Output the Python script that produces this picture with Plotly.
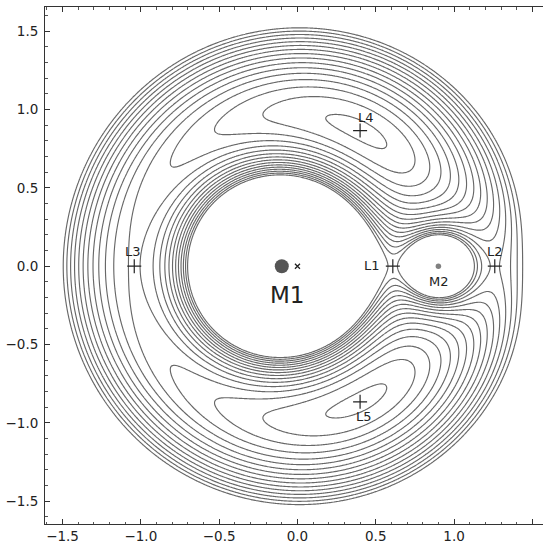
import numpy as np
import plotly.graph_objects as go

# --- data ---
MU = 0.1  # mass ratio (M1 at -MU, M2 at 1-MU)
LEVELS = [1.460, 1.483, 1.506, 1.529, 1.552, 1.575, 1.598, 1.621,
          1.644, 1.667, 1.690, 1.713, 1.736, 1.759, 1.782, 1.805]
LAGRANGE_NAMES = ["L1", "L2", "L3", "L4", "L5"]
LAGRANGE_X = [0.609, 1.260, -1.042, 0.400, 0.400]
LAGRANGE_Y = [0.0, 0.0, 0.0, 0.866, -0.866]
LABEL_X = [0.479, 1.260, -1.050, 0.438, 0.428]
LABEL_Y = [0.005, 0.093, 0.093, 0.952, -0.960]
BODY_NAMES = ["M1", "M2"]
BODY_X = [-0.1, 0.9]
BODY_Y = [0.0, 0.0]
BODY_LABEL_X = [-0.068, 0.905]
BODY_LABEL_Y = [-0.183, -0.100]
BARY_X = [0.0]
BARY_Y = [0.0]
X_RANGE = [-1.612, 1.568]
Y_RANGE = [-1.646, 1.655]

# effective potential grid
gx = np.linspace(-1.65, 1.65, 420)
gy = np.linspace(-1.68, 1.68, 420)
X, Y = np.meshgrid(gx, gy)
r1 = np.sqrt((X + MU) ** 2 + Y ** 2)
r2 = np.sqrt((X - 1 + MU) ** 2 + Y ** 2)
with np.errstate(divide="ignore"):
    Z = 0.5 * (X ** 2 + Y ** 2) + (1 - MU) / r1 + MU / r2
Z = np.round(np.minimum(Z, 2.2), 5)

step = (LEVELS[-1] - LEVELS[0]) / (len(LEVELS) - 1)

fig = go.Figure()
fig.add_trace(go.Contour(
    x=gx, y=gy, z=Z,
    contours=dict(start=LEVELS[0], end=LEVELS[-1] + step * 0.01, size=step,
                  coloring="lines", showlabels=False),
    colorscale=[[0, "#686868"], [1, "#686868"]],
    line=dict(width=1.15, smoothing=1),
    showscale=False, hoverinfo="skip",
))

# bodies
fig.add_trace(go.Scatter(x=[BODY_X[0]], y=[BODY_Y[0]], mode="markers",
                         marker=dict(size=14, color="#555555"), hoverinfo="skip"))
fig.add_trace(go.Scatter(x=[BODY_X[1]], y=[BODY_Y[1]], mode="markers",
                         marker=dict(size=5.5, color="#808080"), hoverinfo="skip"))
fig.add_trace(go.Scatter(x=BARY_X, y=BARY_Y, mode="markers",
                         marker=dict(size=5, symbol="x-thin", color="#222222",
                                     line=dict(width=1.3, color="#222222")),
                         hoverinfo="skip"))
# Lagrange points
fig.add_trace(go.Scatter(x=LAGRANGE_X, y=LAGRANGE_Y, mode="markers",
                         marker=dict(size=10, symbol="cross-thin", color="#222222",
                                     line=dict(width=1.2, color="#222222")),
                         hoverinfo="skip"))

for name, lx, ly in zip(LAGRANGE_NAMES, LABEL_X, LABEL_Y):
    fig.add_annotation(x=lx, y=ly, text=name, showarrow=False,
                       font=dict(family="DejaVu Sans", size=13, color="#222222"))
fig.add_annotation(x=BODY_LABEL_X[0], y=BODY_LABEL_Y[0], text=BODY_NAMES[0],
                   showarrow=False, font=dict(family="DejaVu Sans", size=23, color="#222222"))
fig.add_annotation(x=BODY_LABEL_X[1], y=BODY_LABEL_Y[1], text=BODY_NAMES[1],
                   showarrow=False, font=dict(family="DejaVu Sans", size=13, color="#222222"))

axis_common = dict(
    showgrid=False, zeroline=False, showline=True, linecolor="#333333", linewidth=1,
    ticks="inside", ticklen=5, tickwidth=1, tickcolor="#333333",
    tickfont=dict(family="DejaVu Sans", size=13.5, color="#222222"),
    tickmode="array", tickvals=[-1.5, -1.0, -0.5, 0.0, 0.5, 1.0, 1.5],
    ticktext=["\u22121.5", "\u22121.0", "\u22120.5", "0.0", "0.5", "1.0", "1.5"],
    minor=dict(ticks="inside", ticklen=2.5, tickwidth=1, tickcolor="#555555",
               tickmode="linear", tick0=0, dtick=0.1, showgrid=False),
)
fig.update_xaxes(range=X_RANGE, mirror="ticks", **axis_common)
fig.update_yaxes(range=Y_RANGE, mirror=False, ticklabelstandoff=3, **axis_common)

fig.update_layout(
    width=543, height=544, margin=dict(l=45, r=0, t=7, b=18, pad=0),
    plot_bgcolor="white", paper_bgcolor="white", showlegend=False,
)
fig.write_html(
    "out.html",
    config={"displayModeBar": False},
    post_script="document.body.style.margin='0';document.body.style.overflow='hidden';",
)
